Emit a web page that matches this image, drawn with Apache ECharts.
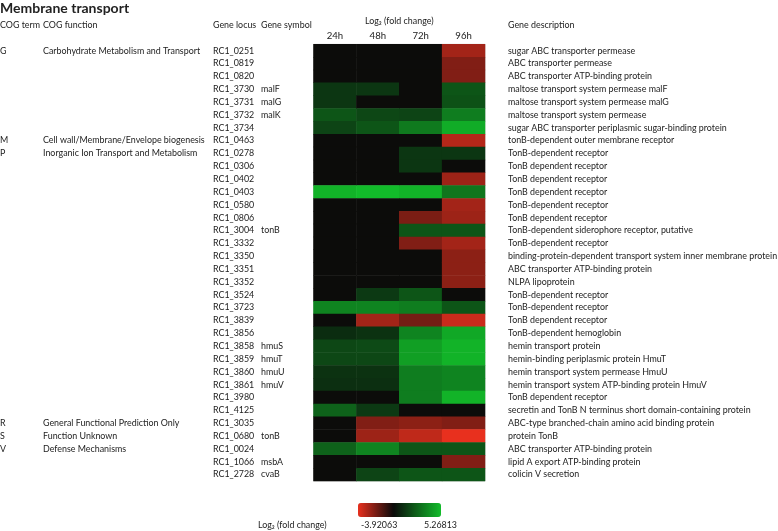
<!DOCTYPE html>
<html><head><meta charset="utf-8">
<script src="https://cdn.jsdelivr.net/npm/echarts@6/dist/echarts.min.js"></script>
<style>html,body{margin:0;padding:0;background:#fff}#c{width:778px;height:531px}</style>
</head><body><div id="c"></div>
<script>
const timePoints = ['24h', '48h', '72h', '96h'];
const geneLoci = ['RC1_0251','RC1_0819','RC1_0820','RC1_3730','RC1_3731','RC1_3732','RC1_3734','RC1_0463','RC1_0278','RC1_0306','RC1_0402','RC1_0403','RC1_0580','RC1_0806','RC1_3004','RC1_3332','RC1_3350','RC1_3351','RC1_3352','RC1_3524','RC1_3723','RC1_3839','RC1_3856','RC1_3858','RC1_3859','RC1_3860','RC1_3861','RC1_3980','RC1_4125','RC1_3035','RC1_0680','RC1_0024','RC1_1066','RC1_2728'];
const geneSymbols = ['','','','malF','malG','malK','','','','','','','','','tonB','','','','','','','','','hmuS','hmuT','hmuU','hmuV','','','','tonB','','msbA','cvaB'];
const cogTerms = ['G','','','','','','','M','P','','','','','','','','','','','','','','','','','','','','','R','S','V','',''];
const cogFunctions = ['Carbohydrate Metabolism and Transport','','','','','','','Cell wall/Membrane/Envelope biogenesis','Inorganic Ion Transport and Metabolism','','','','','','','','','','','','','','','','','','','','','General Functional Prediction Only','Function Unknown','Defense Mechanisms','',''];
const descriptions = ['sugar ABC transporter permease','ABC transporter permease','ABC transporter ATP-binding protein','maltose transport system permease malF','maltose transport system permease malG','maltose transport system permease','sugar ABC transporter periplasmic sugar-binding protein','tonB-dependent outer membrane receptor','TonB-dependent receptor','TonB dependent receptor','TonB dependent receptor','TonB dependent receptor','TonB-dependent receptor','TonB dependent receptor','TonB-dependent siderophore receptor, putative','TonB-dependent receptor','binding-protein-dependent transport system inner membrane protein','ABC transporter ATP-binding protein','NLPA lipoprotein','TonB-dependent receptor','TonB-dependent receptor','TonB dependent receptor','TonB-dependent hemoglobin','hemin transport protein','hemin-binding periplasmic protein HmuT','hemin transport system permease HmuU','hemin transport system ATP-binding protein HmuV','TonB dependent receptor','secretin and TonB N terminus short domain-containing protein','ABC-type branched-chain amino acid binding protein','protein TonB','ABC transporter ATP-binding protein','lipid A export ATP-binding protein','colicin V secretion'];
const fc24h = [0,0,0,1.3,1.3,2.2,1.7,0,0,0,0,5.0,0,0,0,0,0,0,0,0,3.6,0,1.0,1.8,1.8,1.2,1.1,0,2.6,0,0,2.6,0,0];
const fc48h = [0,0,0,1.3,0,1.8,2.2,0,0,0,0,5.26813,0,0,0,0,0,0,0,1.4,3.6,-2.7,1.2,1.9,1.8,1.2,1.1,0,1.4,-2.1,-2.6,3.6,0,1.7];
const fc72h = [0,0,0,0,0,1.7,3.3,0,1.3,1.3,0,5.0,0,-2.0,2.2,-2.1,0,0,0,2.2,3.4,-1.9,3.6,4.4,4.4,3.4,3.4,3.4,0,-2.3,-3.2,2.2,0,2.2];
const fc96h = [-2.7,-2.1,-2.1,2.2,2.1,3.4,4.8,-3.0,1.3,0,-2.6,3.2,-2.7,-2.6,2.2,-2.7,-2.3,-2.3,-2.3,0,2.2,-3.4,4.7,5.0,5.0,3.6,3.6,5.0,0,-2.1,-3.92063,2.2,-2.1,2.2];
const scaleEnds = [-3.92063, 5.26813];

const FONT = 'Lato';
const FS = 8.9;
const TXT = '#222';
const series = [fc24h, fc48h, fc72h, fc96h];
const data = [];
series.forEach((arr, xi) => arr.forEach((v, yi) => data.push([xi, yi, v])));

// colour ramp: red at min, black at 0, green at max
const RED = [232, 48, 30], BLK = [10, 10, 10], GRN = [18, 188, 42];
function colAt(v) {
  let b, t;
  if (v < 0) { b = RED; t = v / scaleEnds[0]; } else { b = GRN; t = v / scaleEnds[1]; }
  const c = BLK.map((x, i) => Math.round(x + (b[i] - x) * t));
  return 'rgb(' + c.join(',') + ')';
}
const stops = [];
for (let i = 0; i <= 60; i++) stops.push(colAt(scaleEnds[0] + (scaleEnds[1] - scaleEnds[0]) * i / 60));

const GL = 313.5, GR = 485, GT = 44.3, GB = 481;
function labelAxis(arr, pos, margin) {
  return {
    type: 'category', data: geneLoci, inverse: true, gridIndex: 0, position: pos,
    axisLine: { show: false }, axisTick: { show: false }, splitLine: { show: false },
    axisLabel: { interval: 0, align: 'left', margin: margin, color: TXT, fontFamily: FONT, fontSize: FS,
      formatter: (val, idx) => arr[idx] }
  };
}
const txt = (x, y, s, extra) => ({ type: 'text', left: x, top: y, style: Object.assign({ text: s, fill: TXT, font: FS + 'px ' + FONT }, extra || {}) });

const chart = echarts.init(document.getElementById('c'), null, { renderer: 'canvas' });
chart.setOption({
  animation: false,
  backgroundColor: '#fff',
  grid: { left: GL, right: 778 - GR, top: GT, bottom: 531 - GB, outerBoundsMode: 'none', containLabel: false,
    show: true, borderColor: '#d0d0d0', borderWidth: 1 },
  xAxis: {
    type: 'category', data: timePoints, position: 'top',
    axisLine: { show: false }, axisTick: { show: false }, splitLine: { show: false },
    axisLabel: { margin: 3, color: TXT, fontFamily: FONT, fontSize: 9.6 },
    name: 'Log₂ (fold change)', nameLocation: 'middle', nameGap: 19,
    nameTextStyle: { color: TXT, fontFamily: FONT, fontSize: FS }
  },
  yAxis: [
    labelAxis(geneLoci, 'left', GL - 213),
    labelAxis(geneSymbols, 'left', GL - 261),
    labelAxis(cogTerms, 'left', GL - 0),
    labelAxis(cogFunctions, 'left', GL - 43),
    labelAxis(descriptions, 'right', 508 - GR)
  ],
  visualMap: {
    type: 'continuous', min: scaleEnds[0], max: scaleEnds[1], calculable: false, hoverLink: false,
    orient: 'horizontal', left: 358, top: 503, itemWidth: 14, itemHeight: 83, padding: 0,
    inRange: { color: stops }, text: null, seriesIndex: 0
  },
  series: [{
    type: 'heatmap', xAxisIndex: 0, yAxisIndex: 0, data: data,
    itemStyle: { borderWidth: 0 }, emphasis: { disabled: true }, progressive: 0
  }],
  graphic: [
    txt(0, 1, 'Membrane transport', { font: 'bold 14px ' + FONT }),
    txt(0, 20.5, 'COG term'),
    txt(43, 20.5, 'COG function'),
    txt(213, 20.5, 'Gene locus'),
    txt(261, 20.5, 'Gene symbol'),
    txt(508, 20.5, 'Gene description'),
    txt(258, 521, 'Log₂ (fold change)'),
    txt(361, 521, String(scaleEnds[0])),
    txt(424, 521, String(scaleEnds[1]))
  ]
});
</script></body></html>
